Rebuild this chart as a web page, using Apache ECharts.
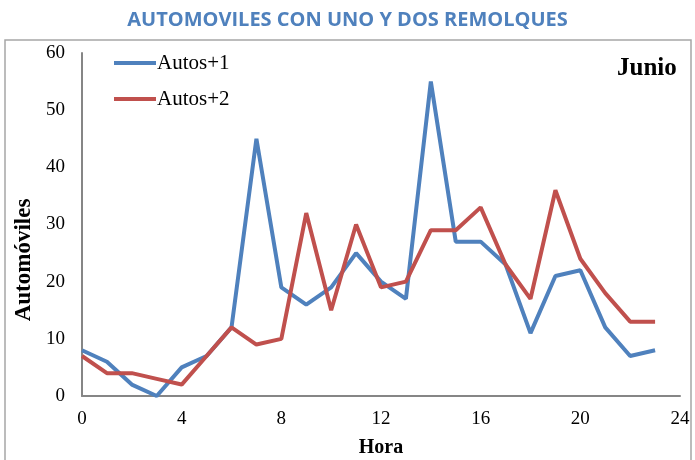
<!DOCTYPE html>
<html>
<head>
<meta charset="utf-8">
<script src="https://cdn.jsdelivr.net/npm/echarts@6/dist/echarts.min.js"></script>
<style>
html, body { margin: 0; padding: 0; background: #fff; }
#echart { width: 695px; height: 460px; }
</style>
</head>
<body>
<div id="echart"></div>
<script>
// datos
var horas = [0,1,2,3,4,5,6,7,8,9,10,11,12,13,14,15,16,17,18,19,20,21,22,23];
var autos1 = [8,6,2,0,5,7,12,45,19,16,19,25,20,17,55,27,27,23,11,21,22,12,7,8];
var autos2 = [7,4,4,3,2,7,12,9,10,32,15,30,19,20,29,29,33,23,17,36,24,18,13,13];
var xTicks = [0,4,8,12,16,20,24];

function pares(xs, ys) {
    return xs.map(function (x, i) { return [x, ys[i]]; });
}

var myChart = echarts.init(document.getElementById('echart'));
var serif = '"Liberation Serif", "DejaVu Serif", serif';
var option = {
    animation: false,
    title: [{
        text: 'AUTOMOVILES CON UNO Y DOS REMOLQUES',
        left: 'center',
        top: 5,
        textStyle: { fontFamily: 'Open Sans', fontWeight: 'bold', fontSize: 20, color: '#4F81BD' }
    }, {
        text: 'Junio',
        left: 612,
        top: 51,
        textStyle: { fontFamily: serif, fontWeight: 'bold', fontSize: 25, color: '#000' }
    }],
    graphic: [{
        type: 'rect',
        shape: { x: 5, y: 40, width: 686, height: 440 },
        style: { fill: 'none', stroke: '#a6a6a6', lineWidth: 1.5 },
        silent: true
    }, {
        // titulo del eje Y (desplazado hacia abajo como en el original)
        type: 'text',
        x: 24,
        y: 260,
        rotation: Math.PI / 2,
        style: {
            text: 'Automóviles',
            fontFamily: serif, fontWeight: 'bold', fontSize: 23, fill: '#000',
            align: 'center', verticalAlign: 'middle'
        },
        silent: true
    }],
    legend: {
        orient: 'vertical',
        left: 109,
        top: 47,
        icon: 'rect',
        itemWidth: 42,
        itemHeight: 4,
        itemGap: 14,
        textStyle: { fontFamily: serif, fontSize: 21, color: '#000', padding: [0, 0, 0, -4], lineHeight: 22 },
        data: ['Autos+1', 'Autos+2']
    },
    grid: { left: 82, right: 15, top: 53, bottom: 64, containLabel: false, outerBoundsMode: 'none' },
    xAxis: {
        type: 'value',
        min: 0,
        max: 24,
        interval: 4,
        name: 'Hora',
        nameLocation: 'middle',
        nameGap: 42,
        nameTextStyle: { fontFamily: serif, fontWeight: 'bold', fontSize: 20, color: '#000' },
        axisLine: { lineStyle: { color: '#868686', width: 2 } },
        axisTick: { show: false },
        splitLine: { show: false },
        axisLabel: {
            fontFamily: serif, fontSize: 19, color: '#000', margin: 14,
            formatter: function (v) { return xTicks.indexOf(v) >= 0 ? v : ''; }
        }
    },
    yAxis: {
        type: 'value',
        min: 0,
        max: 60,
        interval: 10,
        axisLine: { show: true, lineStyle: { color: '#868686', width: 2 } },
        axisTick: { show: false },
        splitLine: { show: false },
        axisLabel: { fontFamily: serif, fontSize: 19, color: '#000', margin: 17 }
    },
    series: [{
        name: 'Autos+1',
        type: 'line',
        symbol: 'none',
        data: pares(horas, autos1),
        lineStyle: { width: 4, color: '#4F81BD' },
        itemStyle: { color: '#4F81BD' }
    }, {
        name: 'Autos+2',
        type: 'line',
        symbol: 'none',
        data: pares(horas, autos2),
        lineStyle: { width: 4, color: '#C0504D' },
        itemStyle: { color: '#C0504D' }
    }]
};
myChart.setOption(option);
</script>
</body>
</html>
